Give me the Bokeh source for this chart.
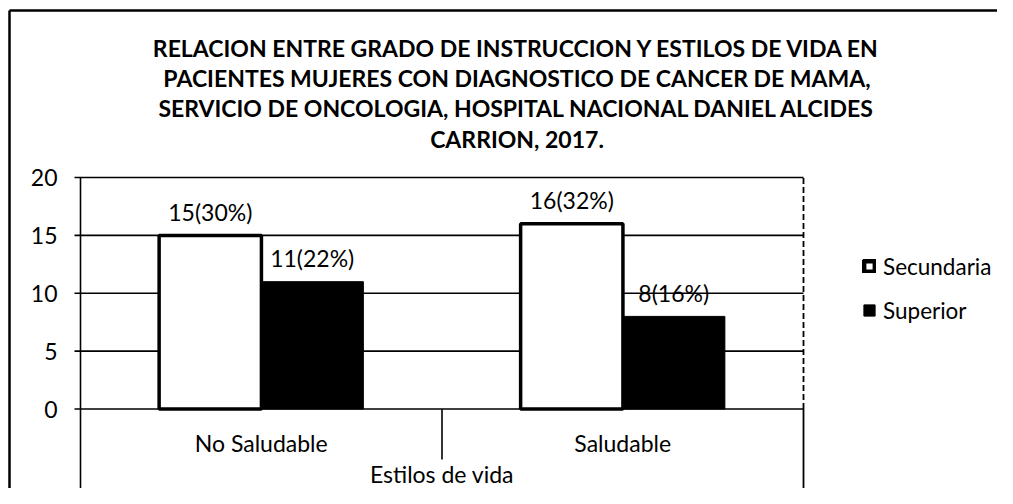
from bokeh.plotting import figure
from bokeh.models import Range1d, Legend, LegendItem, ColumnDataSource
from bokeh.core.properties import value
from bokeh.embed import file_html
from bokeh.resources import INLINE

# ---------------- data ----------------
categories = ["No Saludable", "Saludable"]
series_names = ["Secundaria", "Superior"]
secundaria = [15, 16]
superior = [11, 8]
secundaria_labels = ["15(30%)", "16(32%)"]
superior_labels = ["11(22%)", "8(16%)"]
y_ticks = [0, 5, 10, 15, 20]
y_tick_labels = ["0", "5", "10", "15", "20"]
title_lines = [
    "RELACION ENTRE GRADO DE INSTRUCCION Y ESTILOS DE VIDA EN",
    "PACIENTES MUJERES CON DIAGNOSTICO DE CANCER DE MAMA,",
    "SERVICIO DE ONCOLOGIA, HOSPITAL NACIONAL DANIEL ALCIDES",
    "CARRION, 2017.",
]
x_title = "Estilos de vida"

# ---------------- style / layout ----------------
FONT = "Lato"
FS = "23px"
W, H = 997, 488
PX_X = 361.5            # pixels per category
PX_Y = 11.575           # pixels per unit
X0_PX, Y0_PX = 80, 408.5
X_MIN, X_MAX = -X0_PX / PX_X, (W - X0_PX) / PX_X
Y_MIN, Y_MAX = -(H - Y0_PX) / PX_Y, Y0_PX / PX_Y
AX_TOP = y_ticks[-1]
BAR_W = 0.283
OFF_SEC, OFF_SUP = -0.141, 0.141
LABEL_OFF = 2.03
TITLE_Y = [(Y0_PX - c) / PX_Y for c in (47, 77, 107.5, 138)]
TITLE_X = (516.5 - X0_PX) / PX_X
TICK_LEN = 6 / PX_X
TICK_LAB_X = -23 / PX_X
BORDER_X = (9 - X0_PX) / PX_X
BORDER_Y = (Y0_PX - 10) / PX_Y

n = len(categories)
xc = [i + 0.5 for i in range(n)]

src = ColumnDataSource(dict(
    xs=[x + OFF_SEC for x in xc], xu=[x + OFF_SUP for x in xc],
    sec=secundaria, sup=superior,
    sec_lab=secundaria_labels, sup_lab=superior_labels,
    sec_y=[v + LABEL_OFF for v in secundaria],
    sup_y=[v + LABEL_OFF for v in superior],
))

p = figure(x_range=Range1d(X_MIN, X_MAX), y_range=Range1d(Y_MIN, Y_MAX),
           width=W, height=H, output_backend="svg", toolbar_location=None,
           min_border_left=0, min_border_right=0, min_border_top=0,
           min_border_bottom=0)
p.outline_line_color = None
p.background_fill_color = "white"
p.border_fill_color = "white"
p.xaxis.visible = False
p.yaxis.visible = False
p.xgrid.visible = False
p.ygrid.visible = False

LINE = dict(line_color="black", line_width=1.6)

# outer chart border (left and top)
p.segment(x0=[BORDER_X], x1=[BORDER_X], y0=[Y_MIN], y1=[BORDER_Y],
          line_color="black", line_width=2.5)
p.segment(x0=[BORDER_X], x1=[X_MAX], y0=[BORDER_Y], y1=[BORDER_Y],
          line_color="black", line_width=2.5)

# horizontal gridlines with outward tick marks
nt = len(y_ticks)
p.segment(x0=[-TICK_LEN] * nt, x1=[n] * nt, y0=y_ticks, y1=y_ticks, **LINE)
# y tick labels
p.text(x=[TICK_LAB_X] * nt, y=y_ticks, text=y_tick_labels, text_align="right",
       text_baseline="middle", text_font=value(FONT), text_font_size=FS,
       text_color="black")
# left axis line (continues down past the category labels)
p.segment(x0=[0], x1=[0], y0=[Y_MIN], y1=[AX_TOP], **LINE)
# category separator and right border
p.segment(x0=[1], y0=[0], x1=[1], y1=[-4.36], **LINE)
p.segment(x0=[n], y0=[0], x1=[n], y1=[Y_MIN], line_color="black", line_width=1.8)
p.segment(x0=[n], y0=[0], x1=[n], y1=[AX_TOP], line_color="black", line_width=1.8,
          line_dash="6 3")

# bars
r_sec = p.vbar(x="xs", top="sec", width=BAR_W, source=src,
               fill_color="white", line_color="black", line_width=3.5)
# legend-only key for the outlined series (thick frame, small white centre);
# a tiny mark hidden beneath the first black bar, which is drawn over it
r_sec_key = p.vbar(x=[xc[0] + OFF_SUP], bottom=[1], top=[3], width=0.05,
                   fill_color="white", line_color="black", line_width=5)
r_sup = p.vbar(x="xu", top="sup", width=BAR_W, source=src,
               fill_color="black", line_color="black", line_width=1)

# data labels
txt = dict(text_align="center", text_baseline="middle", text_font=value(FONT),
           text_font_size=FS, text_color="black")
p.text(x="xs", y="sec_y", text="sec_lab", source=src, **txt)
p.text(x="xu", y="sup_y", text="sup_lab", source=src, **txt)

# category labels and axis title
p.text(x=xc, y=[-2.98] * n, text=categories, **txt)
p.text(x=[n / 2], y=[Y_MIN + 0.03], text=[x_title], text_align="center",
       text_baseline="bottom", text_font=value(FONT), text_font_size=FS,
       text_color="black")

# title lines
p.text(x=[TITLE_X] * len(title_lines), y=TITLE_Y, text=title_lines,
       text_align="center", text_baseline="middle", text_font=value(FONT),
       text_font_size="23px", text_font_style="bold", text_color="black")

# legend
legend = Legend(items=[LegendItem(label=series_names[0], renderers=[r_sec_key]),
                       LegendItem(label=series_names[1], renderers=[r_sup])],
                location=(862, 164), orientation="vertical",
                glyph_width=14, glyph_height=14, label_height=28, spacing=16,
                padding=0, margin=0, border_line_color=None,
                background_fill_alpha=0, label_text_font=FONT,
                label_text_font_size="22.5px", label_text_color="black",
                label_standoff=7)
p.add_layout(legend, "center")

open("out.html", "w").write(file_html(p, INLINE))
